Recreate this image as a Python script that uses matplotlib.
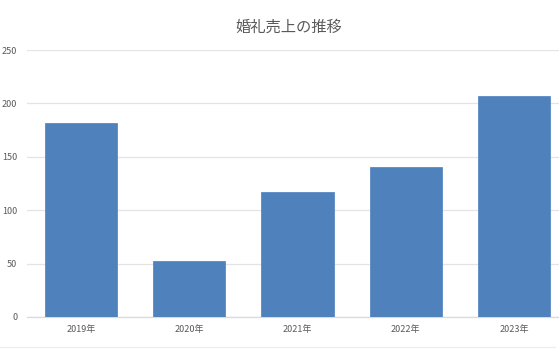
import matplotlib.pyplot as plt
from matplotlib.lines import Line2D

plt.rcParams['font.family'] = ['Noto Sans CJK JP', 'DejaVu Sans']

YEARS = ['2019年', '2020年', '2021年', '2022年', '2023年']
SALES = [182, 52, 117, 140, 207]
Y_TICKS = [0, 50, 100, 150, 200, 250]

BAR_COLOR = '#4f81bd'
GRID_COLOR = '#e4e4e4'
TEXT_COLOR = '#595959'


def main():
    fig = plt.figure(figsize=(5.59, 3.6), dpi=100)
    # plot area runs a little past the right edge, like the cropped original
    ax = fig.add_axes([27 / 559, 43 / 360, 541 / 559, 267 / 360])

    x = range(len(YEARS))
    ax.bar(x, SALES, width=0.667, color=BAR_COLOR, edgecolor='#5b8ac4',
           linewidth=0.6, zorder=3)

    ax.set_xlim(-0.5, len(YEARS) - 0.5)
    ax.set_ylim(0, 250)
    ax.set_yticks(Y_TICKS)
    ax.set_xticks(list(x))
    ax.set_xticklabels(YEARS)

    ax.grid(axis='y', color=GRID_COLOR, linewidth=0.9, zorder=0)
    for side in ['top', 'right', 'left']:
        ax.spines[side].set_visible(False)
    ax.spines['bottom'].set_color('#dadada')
    ax.spines['bottom'].set_linewidth(0.9)

    ax.tick_params(axis='both', length=0, labelsize=6.5, colors=TEXT_COLOR)
    ax.tick_params(axis='y', pad=7)
    ax.tick_params(axis='x', pad=6)

    fig.text(289 / 559, 1 - 27 / 360, '婚礼売上の推移', ha='center', va='center',
             fontsize=11, color=TEXT_COLOR)

    fig.add_artist(Line2D([0, 555 / 559], [1 - 347 / 360] * 2,
                          transform=fig.transFigure, color='#ececec', lw=0.8))

    fig.savefig('out.png', dpi=100)


if __name__ == '__main__':
    main()
